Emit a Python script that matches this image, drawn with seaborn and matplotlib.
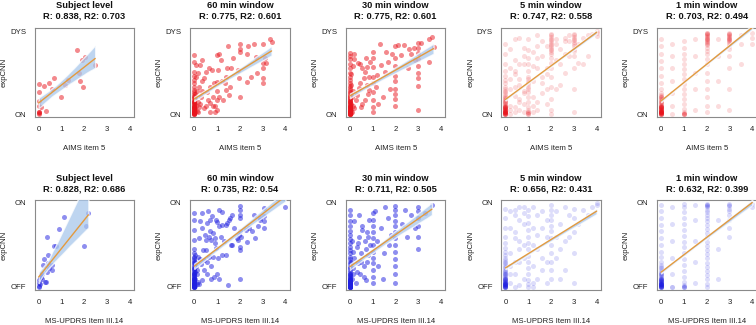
import numpy as np
import pandas as pd
import matplotlib
matplotlib.use("Agg")
import matplotlib.pyplot as plt
import seaborn as sns

# ---- data ---------------------------------------------------------------
titles_top = ["Subject level\nR: 0.838, R2: 0.703", "60 min window\nR: 0.775, R2: 0.601",
              "30 min window\nR: 0.775, R2: 0.601", "5 min window\nR: 0.747, R2: 0.558",
              "1 min window\nR: 0.703, R2: 0.494"]
titles_bot = ["Subject level\nR: 0.828, R2: 0.686", "60 min window\nR: 0.735, R2: 0.54",
              "30 min window\nR: 0.711, R2: 0.505", "5 min window\nR: 0.656, R2: 0.431",
              "1 min window\nR: 0.632, R2: 0.399"]
ylab_top = ["ON", "DYS"]
ylab_bot = ["OFF", "ON"]
xlab_top = "AIMS item 5"
xlab_bot = "MS-UPDRS Item III.14"

# top row: AIMS item 5 vs expCNN (ON..DYS)
subj_aims = [1.69, 2.02, 1.91, 2.48, 1.77, 1.80, 1.95, 1.17, 1.28, 0.69, 0.44, 0.23, 0.58, 0.00,
             0.02, 0.98, 0.00, 0.00, 0.08, 0.30, 0.00, 0.00, 0.00, 0.00]
subj_dys = [0.77, 0.69, 0.65, 0.59, 0.50, 0.40, 0.33, 0.35, 0.41, 0.43, 0.37, 0.34, 0.30, 0.36,
            0.27, 0.21, 0.16, 0.10, 0.08, 0.04, 0.03, 0.02, 0.01, 0.00]

w60_aims = [3.39, 3.32, 3.01, 2.62, 2.37, 2.00, 2.00, 2.02, 2.32, 2.69, 3.09, 3.01, 3.16, 3.03, 3.01,
            3.01, 2.76, 2.47, 2.32, 2.00, 1.96, 1.91, 1.46, 1.52, 1.55, 1.40, 1.33, 1.18, 1.08, 1.01,
            1.04, 1.01, 1.01, 1.01, 1.01, 0.83, 0.80, 0.93, 0.68, 0.50, 0.42, 0.20, 0.76, 0.66, 0.50,
            0.42, 0.32, 0.22, 0.25, 0.35, 0.07, 0.00, 0.00, 0.00, 0.00, 0.00, 0.12, 0.35, 0.57, 0.68,
            0.85, 1.22, 1.62, 1.71, 1.37, 1.44, 1.26, 1.08,
            0.02, 0.03, 0.05, 0.03, 0.05, 0.08, 0.10, 0.15, 0.18, 0.25, 0.30, 0.60, 0.90, 0.70,
            0.00, 0.08, 0.15]
w60_dys = [0.87, 0.90, 0.84, 0.84, 0.82, 0.84, 0.75, 0.79, 0.73, 0.69, 0.67, 0.62, 0.62, 0.55, 0.44,
           0.37, 0.50, 0.45, 0.39, 0.20, 0.43, 0.53, 0.82, 0.23, 0.33, 0.29, 0.38, 0.65, 0.73, 0.71,
           0.53, 0.39, 0.28, 0.17, 0.05, 0.21, 0.10, 0.10, 0.13, 0.10, 0.07, 0.08, 0.53, 0.55, 0.51,
           0.44, 0.40, 0.33, 0.59, 0.65, 0.59, 0.71, 0.63, 0.51, 0.41, 0.33, 0.28, 0.28, 0.26, 0.33,
           0.38, 0.40, 0.56, 0.67, 0.45, 0.55, 0.17, 0.21,
           0.12, 0.06, 0.18, 0.24, 0.02, 0.10, 0.04, 0.15, 0.02, 0.12, 0.20, 0.17, 0.02, 0.03,
           0.46, 0.45, 0.50]
# the crowded column of 60 min windows scored 0
w60_zero_dys = [0.00, 0.00, 0.00, 0.01, 0.01, 0.01, 0.02, 0.02, 0.03, 0.03, 0.04, 0.04, 0.05, 0.05,
                0.06, 0.07, 0.07, 0.08, 0.09, 0.09, 0.10, 0.11, 0.12, 0.13, 0.14, 0.15, 0.16, 0.17,
                0.19, 0.20, 0.22, 0.24, 0.26, 0.29, 0.37]

w30_aims = [3, 3, 3, 3, 3, 3, 3, 3, 3,
            3.60, 3.46, 3.67, 3.46, 3.10, 2.85, 2.67, 2.53, 2.38, 2.24, 2.09, 2.60, 2.80,
            2, 2, 2, 2, 2, 2, 2, 2, 2,
            1.83, 1.68, 1.54, 1.33, 1.36, 1.21, 1.14, 1.60, 1.75, 1.45, 1.25,
            1, 1, 1, 1, 1, 1, 1, 1, 1,
            0.90, 0.77, 0.66, 0.55, 0.60, 0.46, 0.40, 0.33, 0.25, 0.20, 0.75, 0.85, 0.80, 0.66, 0.55,
            0.50, 0.19, 0.19, 0.13, 0.07, 0.35, 0.45, 0.70, 0.85,
            0.03, 0.05, 0.08, 0.10, 0.12, 0.15, 0.05, 0.02, 0.04]
w30_dys = [0.86, 0.80, 0.74, 0.66, 0.58, 0.50, 0.44, 0.34, 0.05,
           0.93, 0.91, 0.81, 0.63, 0.86, 0.65, 0.73, 0.55, 0.83, 0.71, 0.83, 0.78, 0.80,
           0.82, 0.68, 0.58, 0.46, 0.40, 0.30, 0.24, 0.18, 0.10,
           0.73, 0.63, 0.51, 0.85, 0.59, 0.47, 0.33, 0.75, 0.30, 0.20, 0.12,
           0.75, 0.67, 0.57, 0.45, 0.37, 0.27, 0.17, 0.09, 0.03,
           0.63, 0.57, 0.51, 0.55, 0.43, 0.37, 0.31, 0.23, 0.17, 0.07, 0.35, 0.29, 0.24, 0.17, 0.12,
           0.08, 0.72, 0.66, 0.58, 0.48, 0.62, 0.60, 0.68, 0.45,
           0.05, 0.12, 0.20, 0.03, 0.10, 0.28, 0.35, 0.00, 0.01]
w30_zero_dys = [0.00, 0.00, 0.00, 0.00, 0.01, 0.01, 0.01, 0.02, 0.02, 0.02, 0.03, 0.03, 0.04, 0.04,
                0.05, 0.05, 0.06, 0.06, 0.07, 0.08, 0.08, 0.09, 0.10, 0.10, 0.11, 0.12, 0.13, 0.14,
                0.15, 0.16, 0.17, 0.18, 0.19, 0.20, 0.22, 0.23, 0.25, 0.27, 0.29, 0.31, 0.34, 0.37,
                0.41, 0.45, 0.50, 0.55, 0.60, 0.66, 0.70, 0.74]

# 5 min / 1 min windows: y values stacked on each AIMS score, plus loose points
w5_top_cols = {
    0.0: [0.00, 0.00, 0.00, 0.00, 0.00, 0.00, 0.01, 0.01, 0.01, 0.01, 0.02, 0.02, 0.02, 0.02,
          0.03, 0.03, 0.03, 0.03, 0.04, 0.04, 0.04, 0.05, 0.05, 0.05, 0.06, 0.06, 0.06, 0.07,
          0.07, 0.07, 0.08, 0.08, 0.08, 0.09, 0.09, 0.10, 0.10, 0.11, 0.12, 0.13, 0.14, 0.15,
          0.16, 0.17, 0.18, 0.19, 0.20, 0.22, 0.24, 0.26, 0.28, 0.30, 0.33, 0.37, 0.41, 0.46,
          0.52, 0.60, 0.72, 0.84],
    1.0: [0.00, 0.00, 0.01, 0.02, 0.03, 0.05, 0.09, 0.14, 0.20, 0.26, 0.30, 0.33, 0.36, 0.39, 0.42,
          0.45, 0.52, 0.60, 0.68, 0.77],
    2.0: [0.05, 0.18, 0.32, 0.45, 0.55, 0.62, 0.68, 0.72, 0.75, 0.77, 0.79, 0.81, 0.83, 0.85, 0.87,
          0.89, 0.91, 0.93, 0.95, 0.97],
    3.0: [0.03, 0.30, 0.55, 0.70, 0.76, 0.79, 0.82, 0.85, 0.87, 0.89, 0.91, 0.93, 0.95, 0.97],
    4.0: [0.94, 0.98, 1.00],
}
w5_top_x = [0.2, 0.2, 0.2, 0.4, 0.4, 0.4, 0.6, 0.6, 0.8, 0.8, 1.2, 1.2, 1.4, 1.4, 1.6, 1.8, 1.8, 2.2,
            2.4, 2.6, 2.8, 3.2, 3.4, 0.2, 0.4, 0.6, 0.8, 1.2, 1.4, 1.6, 0.2, 0.4, 0.6, 0.8, 1.2, 1.6,
            2.4, 2.6, 2.2, 3.4, 3.6, 3.8, 1.8, 2.8,
            0.2, 0.4, 0.6, 0.8, 1.2, 1.4, 1.6, 1.8, 2.2, 2.4, 2.6, 2.8, 3.2, 0.2, 0.4, 0.6, 0.8,
            1.2, 1.4, 1.6, 1.8, 2.2, 2.6, 3.6, 0.4, 0.8, 1.4, 2.0, 0.6, 1.0]
w5_top_y = [0.00, 0.10, 0.30, 0.02, 0.22, 0.48, 0.05, 0.35, 0.12, 0.60, 0.02, 0.40, 0.15, 0.55, 0.70,
            0.30, 0.82, 0.65, 0.78, 0.50, 0.88, 0.85, 0.92, 0.42, 0.52, 0.60, 0.70, 0.75, 0.68, 0.25,
            0.05, 0.08, 0.15, 0.25, 0.20, 0.45, 0.35, 0.92, 0.90, 0.60, 0.95, 0.96, 0.55, 0.70,
            0.55, 0.65, 0.18, 0.28, 0.58, 0.05, 0.38, 0.12, 0.85, 0.60, 0.72, 0.95, 0.62, 0.78,
            0.32, 0.42, 0.02, 0.10, 0.82, 0.88, 0.48, 0.30, 0.88, 0.70, 0.90, 0.80, 0.95, 0.00,
            0.92, 0.90]

w1_top_cols = {
    0.0: [0.00, 0.00, 0.00, 0.00, 0.00, 0.00, 0.01, 0.01, 0.01, 0.01, 0.01, 0.02, 0.02, 0.02,
          0.02, 0.02, 0.03, 0.03, 0.03, 0.03, 0.04, 0.04, 0.04, 0.04, 0.05, 0.05, 0.05, 0.05,
          0.06, 0.06, 0.06, 0.07, 0.07, 0.07, 0.08, 0.08, 0.08, 0.09, 0.09, 0.09, 0.10, 0.10,
          0.10, 0.11, 0.12, 0.13, 0.14, 0.15, 0.16, 0.17, 0.18, 0.19, 0.20, 0.21, 0.22, 0.23,
          0.25, 0.30, 0.38, 0.46, 0.55, 0.64, 0.73, 0.82, 0.90],
    0.5: [0.00, 0.10, 0.25, 0.40, 0.55, 0.70, 0.85],
    1.0: [0.00, 0.00, 0.00, 0.00, 0.01, 0.02, 0.06, 0.12, 0.18, 0.24, 0.30, 0.36, 0.42, 0.48, 0.54,
          0.60, 0.66, 0.72, 0.80, 0.88],
    1.5: [0.05, 0.30, 0.50, 0.70, 0.90],
    2.0: [0.02, 0.10, 0.20, 0.30, 0.40, 0.50, 0.60, 0.66, 0.72, 0.76, 0.80, 0.83, 0.86, 0.88, 0.90,
          0.92, 0.94, 0.96, 0.98, 0.98, 0.97, 0.95, 0.93, 0.91, 0.89, 0.87, 0.85],
    2.5: [0.10, 0.40, 0.70, 0.90],
    3.0: [0.05, 0.30, 0.55, 0.70, 0.78, 0.82, 0.85, 0.88, 0.90, 0.92, 0.94, 0.96, 0.98, 0.97, 0.95,
          0.93, 0.91, 0.89, 0.87],
    3.5: [0.60, 0.85, 0.95],
    4.0: [0.85, 0.92, 0.98],
}

# bottom row: MS-UPDRS III.14 vs expCNN (OFF..ON)
subj_updrs = [2.18, 1.11, 0.91, 2.07, 1.99, 0.35, 0.69, 0.76, 0.25, 0.39, 0.17, 0.42, 0.57, 0.60,
              0.35, 0.13, 0.06, 0.13, 0.02, 0.28, 0.30, 0.00, 0.04, 0.00, 0.01, 0.08, 0.45, 0.10]
subj_on = [0.88, 0.83, 0.69, 0.72, 0.49, 0.59, 0.49, 0.49, 0.33, 0.38, 0.26, 0.28, 0.26, 0.20,
           0.18, 0.16, 0.11, 0.10, 0.08, 0.06, 0.06, 0.05, 0.03, 0.01, 0.00, 0.12, 0.22, 0.14]

w60_updrs = [4.00, 3.06, 1.08, 1.20, 2.00, 2.00, 2.00, 2.00, 1.66, 1.52, 1.56, 1.41, 1.45, 1.01, 1.08,
             1.23, 0.79, 0.69, 0.57, 0.69, 0.65, 0.80, 0.92, 0.90, 0.73, 0.50, 0.00, 0.00, 0.00, 0.00,
             0.26, 0.36, 0.22, 0.45, 0.50, 0.40, 0.27, 0.15, 0.42, 0.65, 0.83, 1.05, 1.22, 1.37, 1.66,
             1.96, 2.00, 2.00, 2.00, 2.00, 1.91, 1.86, 2.05, 2.27, 2.38, 2.53, 2.32, 2.68, 3.06, 3.06,
             3.06, 2.90, 2.80, 1.46, 1.08, 0.85, 1.00, 0.72, 0.57, 0.42, 0.36, 0.22, 0.30, 0.12, 0.55,
             0.75, 1.30, 1.15, 0.95, 1.60, 1.75, 0.35, 0.60, 0.95, 2.60, 2.90,
             0.03, 0.05, 0.08, 0.10, 0.05, 0.10, 0.15, 0.03, 0.02]
w60_on = [0.95, 0.94, 0.91, 0.89, 0.96, 0.92, 0.86, 0.82, 0.86, 0.80, 0.82, 0.74, 0.76, 0.77, 0.72,
          0.74, 0.84, 0.80, 0.76, 0.67, 0.60, 0.64, 0.58, 0.52, 0.56, 0.44, 0.88, 0.80, 0.68, 0.56,
          0.78, 0.70, 0.58, 0.62, 0.56, 0.44, 0.33, 0.36, 0.32, 0.36, 0.36, 0.34, 0.38, 0.38, 0.50,
          0.62, 0.66, 0.48, 0.10, 0.44, 0.56, 0.58, 0.60, 0.68, 0.70, 0.66, 0.54, 0.58, 0.84, 0.78,
          0.70, 0.80, 0.72, 0.02, 0.10, 0.12, 0.16, 0.10, 0.16, 0.20, 0.08, 0.04, 0.27, 0.20, 0.30,
          0.25, 0.55, 0.60, 0.46, 0.50, 0.70, 0.88, 0.90, 0.80, 0.85, 0.82,
          0.30, 0.10, 0.25, 0.15, 0.38, 0.03, 0.06, 0.18, 0.01]
w60_zero_on = [0.00, 0.00, 0.00, 0.00, 0.01, 0.01, 0.01, 0.02, 0.02, 0.03, 0.03, 0.04, 0.04, 0.05,
               0.05, 0.06, 0.07, 0.07, 0.08, 0.09, 0.10, 0.10, 0.11, 0.12, 0.13, 0.14, 0.15, 0.16,
               0.17, 0.18, 0.20, 0.21, 0.23, 0.24, 0.26, 0.28, 0.30, 0.32, 0.34, 0.36, 0.40, 0.45]

w30_bot_cols = {
    0.0: [0.00, 0.00, 0.00, 0.00, 0.00, 0.00, 0.01, 0.01, 0.01, 0.01, 0.02, 0.02, 0.02, 0.02,
          0.03, 0.03, 0.03, 0.04, 0.04, 0.04, 0.05, 0.05, 0.05, 0.06, 0.06, 0.07, 0.07, 0.08,
          0.08, 0.09, 0.10, 0.11, 0.12, 0.13, 0.14, 0.15, 0.16, 0.18, 0.20, 0.22, 0.24, 0.27,
          0.30, 0.33, 0.36, 0.40, 0.44, 0.48, 0.52, 0.57, 0.62, 0.67, 0.72, 0.78, 0.85, 0.92],
    1.0: [0.05, 0.12, 0.20, 0.28, 0.35, 0.42, 0.50, 0.58, 0.65, 0.72, 0.80, 0.88],
    2.0: [0.05, 0.15, 0.25, 0.33, 0.42, 0.50, 0.58, 0.65, 0.72, 0.78, 0.85, 0.92, 0.96],
    3.0: [0.45, 0.60, 0.72, 0.82, 0.90, 0.95],
}
w30_bot_x = [0.10, 0.15, 0.20, 0.25, 0.30, 0.35, 0.40, 0.45, 0.50, 0.55, 0.60, 0.65, 0.70, 0.75,
             0.80, 0.85, 0.90, 0.20, 0.30, 0.40, 0.50, 0.60, 0.70, 0.80, 0.15, 0.35, 0.55, 0.75,
             1.20, 1.35, 1.50, 1.65, 1.80, 1.25, 1.45, 1.70, 2.30, 2.50, 2.70, 2.40, 2.85, 3.30,
             3.60, 0.05, 0.08, 0.12, 1.10, 1.55]
w30_bot_y = [0.10, 0.22, 0.35, 0.05, 0.48, 0.28, 0.60, 0.15, 0.40, 0.72, 0.25, 0.55, 0.08, 0.65,
             0.38, 0.80, 0.50, 0.78, 0.18, 0.85, 0.30, 0.12, 0.45, 0.60, 0.42, 0.52, 0.68, 0.30,
             0.55, 0.70, 0.40, 0.82, 0.62, 0.25, 0.10, 0.50, 0.75, 0.60, 0.85, 0.92, 0.70, 0.88,
             0.97, 0.30, 0.55, 0.15, 0.90, 0.95]

w5_bot_cols = {
    0.0: [0.00, 0.00, 0.00, 0.00, 0.00, 0.00, 0.01, 0.01, 0.01, 0.01, 0.02, 0.02, 0.02, 0.02,
          0.03, 0.03, 0.03, 0.03, 0.04, 0.04, 0.04, 0.05, 0.05, 0.05, 0.06, 0.06, 0.06, 0.07,
          0.07, 0.08, 0.08, 0.09, 0.09, 0.10, 0.10, 0.11, 0.12, 0.13, 0.14, 0.15, 0.16, 0.17,
          0.18, 0.19, 0.20, 0.22, 0.24, 0.26, 0.28, 0.30, 0.32, 0.35, 0.38, 0.41, 0.46, 0.52,
          0.60, 0.70, 0.82, 0.93],
    1.0: [0.00, 0.03, 0.08, 0.15, 0.22, 0.30, 0.37, 0.45, 0.52, 0.60, 0.68, 0.76, 0.84, 0.92],
    2.0: [0.10, 0.20, 0.30, 0.40, 0.50, 0.58, 0.66, 0.73, 0.80, 0.86, 0.92, 0.97],
    3.0: [0.40, 0.65, 0.82, 0.93],
    4.0: [0.97, 1.00],
}
w5_bot_x = [0.2, 0.2, 0.4, 0.4, 0.6, 0.6, 0.8, 0.8, 1.2, 1.2, 1.4, 1.6, 1.8, 2.2, 2.4, 2.6, 2.8, 3.4,
            0.2, 0.4, 0.6, 0.8, 1.4, 1.6, 1.8, 0.2, 0.4, 0.6, 1.2, 2.4, 3.8,
            0.2, 0.4, 0.6, 0.8, 1.2, 1.4, 1.6, 1.8, 2.2, 2.4, 2.6, 2.8, 3.2, 3.6, 0.2, 0.4, 0.6,
            0.8, 1.2, 1.4, 1.6, 1.8, 2.2, 2.6, 3.0, 0.4, 0.8, 1.2]
w5_bot_y = [0.05, 0.40, 0.15, 0.65, 0.30, 0.80, 0.10, 0.50, 0.25, 0.70, 0.45, 0.90, 0.60, 0.35, 0.75,
            0.55, 0.85, 0.92, 0.90, 0.85, 0.55, 0.95, 0.10, 0.20, 0.05, 0.25, 0.00, 0.95, 0.00, 0.10,
            0.95,
            0.70, 0.30, 0.45, 0.75, 0.05, 0.85, 0.35, 0.80, 0.90, 0.45, 0.95, 0.60, 0.75, 0.85,
            0.15, 0.58, 0.02, 0.35, 0.50, 0.62, 0.70, 0.30, 0.60, 0.20, 0.05, 0.92, 0.88, 0.95]

w1_bot_cols = {
    0.0: [0.00, 0.00, 0.00, 0.00, 0.00, 0.00, 0.01, 0.01, 0.01, 0.01, 0.01, 0.02, 0.02, 0.02,
          0.02, 0.03, 0.03, 0.03, 0.03, 0.04, 0.04, 0.04, 0.04, 0.05, 0.05, 0.05, 0.06, 0.06,
          0.06, 0.07, 0.07, 0.07, 0.08, 0.08, 0.08, 0.09, 0.09, 0.10, 0.10, 0.11, 0.12, 0.13,
          0.14, 0.15, 0.16, 0.17, 0.18, 0.20, 0.22, 0.24, 0.26, 0.30, 0.36, 0.42, 0.50, 0.58,
          0.66, 0.74, 0.82, 0.90, 0.97],
    0.5: [0.00, 0.00, 0.15, 0.35, 0.55, 0.75, 0.95],
    1.0: [0.00, 0.00, 0.00, 0.01, 0.02, 0.06, 0.12, 0.19, 0.26, 0.33, 0.40, 0.47, 0.54, 0.61, 0.68,
          0.75, 0.82, 0.89, 0.95, 0.99],
    1.5: [0.05, 0.30, 0.55, 0.80, 0.97],
    2.0: [0.00, 0.04, 0.09, 0.14, 0.19, 0.24, 0.29, 0.34, 0.39, 0.44, 0.49, 0.54, 0.59, 0.64,
          0.69, 0.74, 0.78, 0.82, 0.86, 0.89, 0.92, 0.95, 0.97, 0.99, 0.98, 0.96],
    2.5: [0.10, 0.45, 0.80],
    3.0: [0.60, 0.70, 0.80, 0.86, 0.90, 0.93, 0.96, 0.98, 0.99],
    4.0: [0.95, 0.99],
}

# ---- helpers ---------------------------------------------------------------
RED = "#e8141c"
BLUE = "#1f1fe0"
LINE = "#e39a3e"
BAND = "#a9c8ec"
FIG_W, FIG_H = 756, 325


def frame(xs, ys, zero_ys=()):
    return pd.DataFrame({"x": list(xs) + [0.0] * len(zero_ys), "y": list(ys) + list(zero_ys)})


def stack(cols, extra_x=(), extra_y=()):
    xs = [k for k, v in cols.items() for _ in v] + list(extra_x)
    ys = [y for v in cols.values() for y in v] + list(extra_y)
    return pd.DataFrame({"x": xs, "y": ys})


def panel(fig, col, top_px, bottom_px):
    left = 34.7 + 155.6 * col
    width = 99.5
    return fig.add_axes([left / FIG_W, 1 - bottom_px / FIG_H, width / FIG_W,
                         (bottom_px - top_px) / FIG_H])


def draw(ax, df, color, alpha, ci, title, ylabels, xlabel, pad):
    sns.regplot(data=df, x="x", y="y", ax=ax, ci=ci, seed=3, n_boot=500,
                scatter_kws=dict(color=color, alpha=alpha, s=13, linewidths=0, zorder=2),
                line_kws=dict(color=LINE, lw=1.0, zorder=4))
    band = ax.collections[-1]
    band.set_facecolor(BAND)
    band.set_alpha(0.75)
    band.set_zorder(3)

    ax.set_xlim(-0.175, 4.19)
    ax.set_ylim(-0.036, 1.034)
    ax.set_xticks([0, 1, 2, 3, 4])
    ax.set_yticks([0, 1])
    ax.set_yticklabels(ylabels)
    for s in ax.spines.values():
        s.set_color("#8a8a8a")
        s.set_linewidth(0.8)
    ax.tick_params(length=3, width=0.6, color="#555555", labelsize=5.6, pad=3.2,
                   labelcolor="#222222")
    ax.set_title(title, fontsize=6.7, fontweight="bold", pad=pad, color="#111111",
                 linespacing=1.25)
    ax.set_xlabel(xlabel, fontsize=5.6, va="center", color="#222222")
    ax.xaxis.set_label_coords(0.5, -0.355)
    ax.set_ylabel("expCNN", fontsize=5.6, va="center", color="#222222")
    ax.yaxis.set_label_coords(-0.31, 0.5)


sns.set_theme(style="white")
plt.rcParams["font.family"] = ["Liberation Sans", "DejaVu Sans"]

fig = plt.figure(figsize=(FIG_W / 100, FIG_H / 100), dpi=100)

top = [
    (frame(subj_aims, subj_dys), 0.5, 95),
    (frame(w60_aims, w60_dys, w60_zero_dys), 0.5, 80),
    (frame(w30_aims, w30_dys, w30_zero_dys), 0.5, 80),
    (stack(w5_top_cols, w5_top_x, w5_top_y), 0.15, 40),
    (stack(w1_top_cols), 0.15, 40),
]
bot = [
    (frame(subj_updrs, subj_on), 0.5, 95),
    (frame(w60_updrs, w60_on, w60_zero_on), 0.5, 80),
    (stack(w30_bot_cols, w30_bot_x, w30_bot_y), 0.5, 80),
    (stack(w5_bot_cols, w5_bot_x, w5_bot_y), 0.15, 40),
    (stack(w1_bot_cols), 0.15, 40),
]

for i, (df, a, ci) in enumerate(top):
    ax = panel(fig, i, 28.3, 117)
    draw(ax, df, RED, a, ci, titles_top[i], ylab_top, xlab_top, 6.8)

for i, (df, a, ci) in enumerate(bot):
    ax = panel(fig, i, 200, 290)
    draw(ax, df, BLUE, a, ci, titles_bot[i], ylab_bot, xlab_bot, 5.8)

fig.savefig("out.png", dpi=100)
